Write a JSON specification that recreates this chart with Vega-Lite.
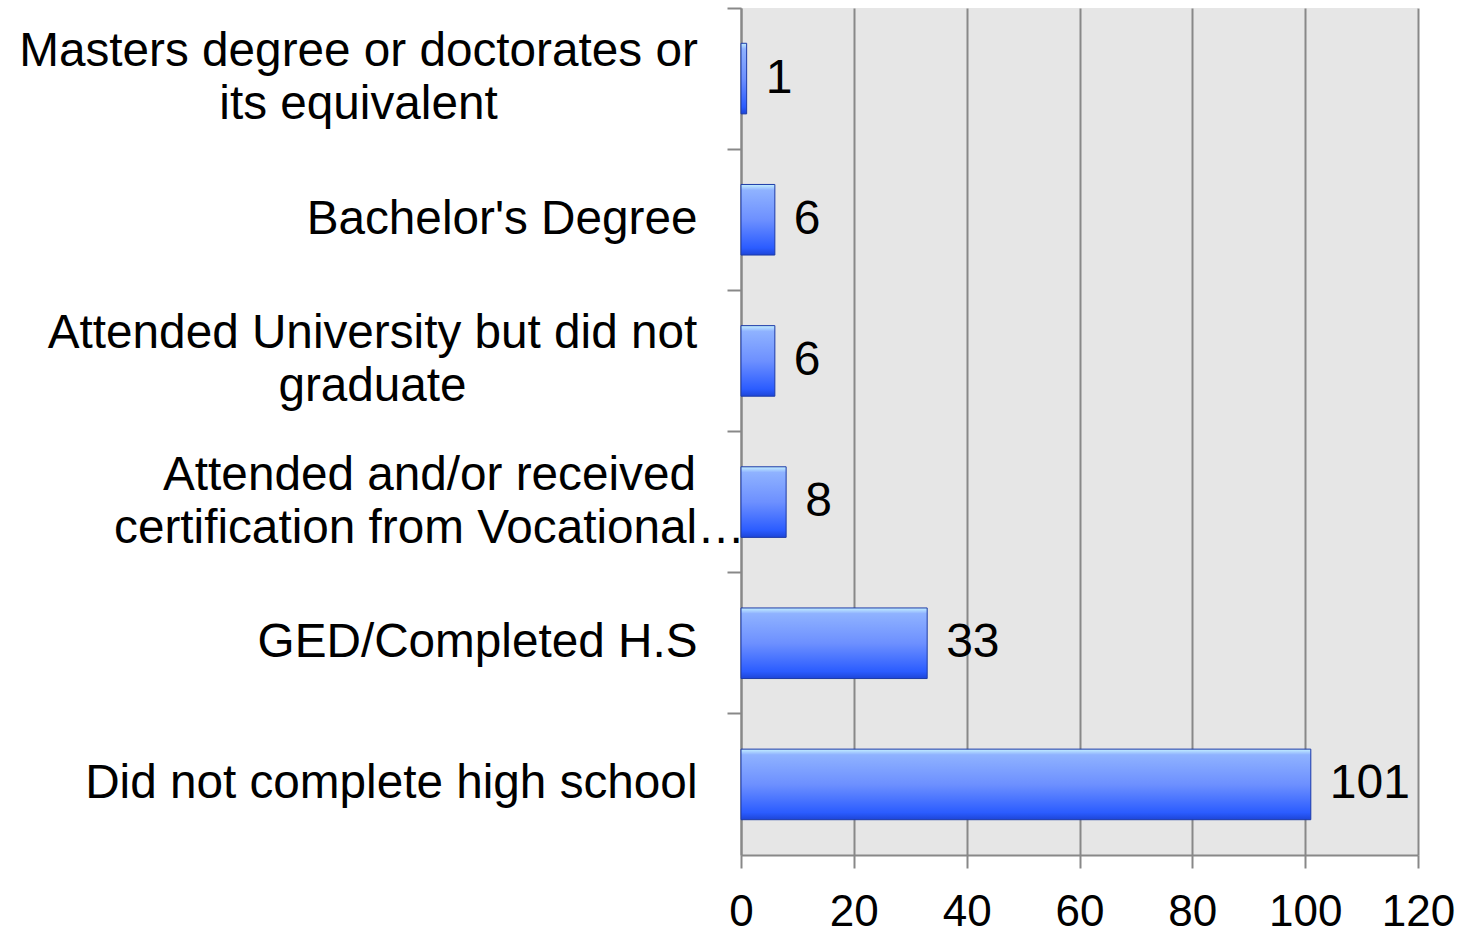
{
  "$schema": "https://vega.github.io/schema/vega-lite/v6.json",
  "autosize": "none",
  "width": 677,
  "height": 847,
  "padding": {"left": 741, "top": 8, "right": 43, "bottom": 80},
  "background": "white",
  "config": {
    "font": "Liberation Sans",
    "view": {"fill": "#e6e6e6", "stroke": null}
  },
  "data": {
    "values": [
      {"level": "Masters degree or doctorates or|its equivalent", "count": 1},
      {"level": "Bachelor's Degree", "count": 6},
      {"level": "Attended University but did not|graduate", "count": 6},
      {"level": "Attended and/or received|certification from Vocational…", "count": 8},
      {"level": "GED/Completed H.S", "count": 33},
      {"level": "Did not complete high school", "count": 101}
    ]
  },
  "encoding": {
    "y": {
      "field": "level",
      "type": "nominal",
      "sort": null,
      "scale": {"paddingInner": 0, "paddingOuter": 0},
      "axis": {
        "title": null,
        "labelExpr": "split(datum.label, '|')",
        "labelFontSize": 47.7,
        "labelColor": "black",
        "labelLimit": 800,
        "labelLineHeight": 53,
        "labelAlign": {
          "condition": {"test": "indexof(datum.value, '|') >= 0", "value": "center"},
          "value": "right"
        },
        "labelPadding": {
          "condition": [
            {"test": "indexof(datum.value, 'Masters') == 0", "value": 369},
            {"test": "indexof(datum.value, 'Attended University') == 0", "value": 355},
            {"test": "indexof(datum.value, 'Attended and/or') == 0", "value": 298}
          ],
          "value": 30
        },
        "labelOffset": {
          "condition": {"test": "indexof(datum.value, '|') >= 0", "value": -26.5},
          "value": 0
        },
        "tickSize": 14,
        "tickColor": "#888888",
        "tickWidth": 2,
        "domainColor": "#888888",
        "domainWidth": 2,
        "bandPosition": 0,
        "grid": false
      }
    },
    "x": {
      "field": "count",
      "type": "quantitative",
      "scale": {"domain": [0, 120], "nice": false},
      "axis": {
        "title": null,
        "values": [0, 20, 40, 60, 80, 100, 120],
        "labelFontSize": 44,
        "labelColor": "black",
        "labelPadding": 22,
        "tickSize": 13,
        "tickColor": "#888888",
        "tickWidth": 2,
        "domainColor": "#888888",
        "domainWidth": 2,
        "gridColor": "#888888",
        "gridWidth": 2,
        "gridOpacity": 1,
        "labelFlush": false
      }
    }
  },
  "layer": [
    {
      "mark": {
        "type": "bar",
        "height": {"band": 0.5},
        "stroke": "#1c3aa8",
        "strokeWidth": 1,
        "color": {
          "gradient": "linear",
          "x1": 0, "y1": 0, "x2": 0, "y2": 1,
          "stops": [
            {"offset": 0, "color": "#c4f0ff"},
            {"offset": 0.08, "color": "#8fb2ff"},
            {"offset": 0.5, "color": "#6d90ff"},
            {"offset": 0.9, "color": "#2b5cff"},
            {"offset": 1, "color": "#1d45d8"}
          ]
        }
      }
    },
    {
      "mark": {"type": "text", "align": "left", "baseline": "middle", "dx": 19, "fontSize": 48, "color": "black"},
      "encoding": {"text": {"field": "count", "type": "quantitative"}}
    }
  ]
}
